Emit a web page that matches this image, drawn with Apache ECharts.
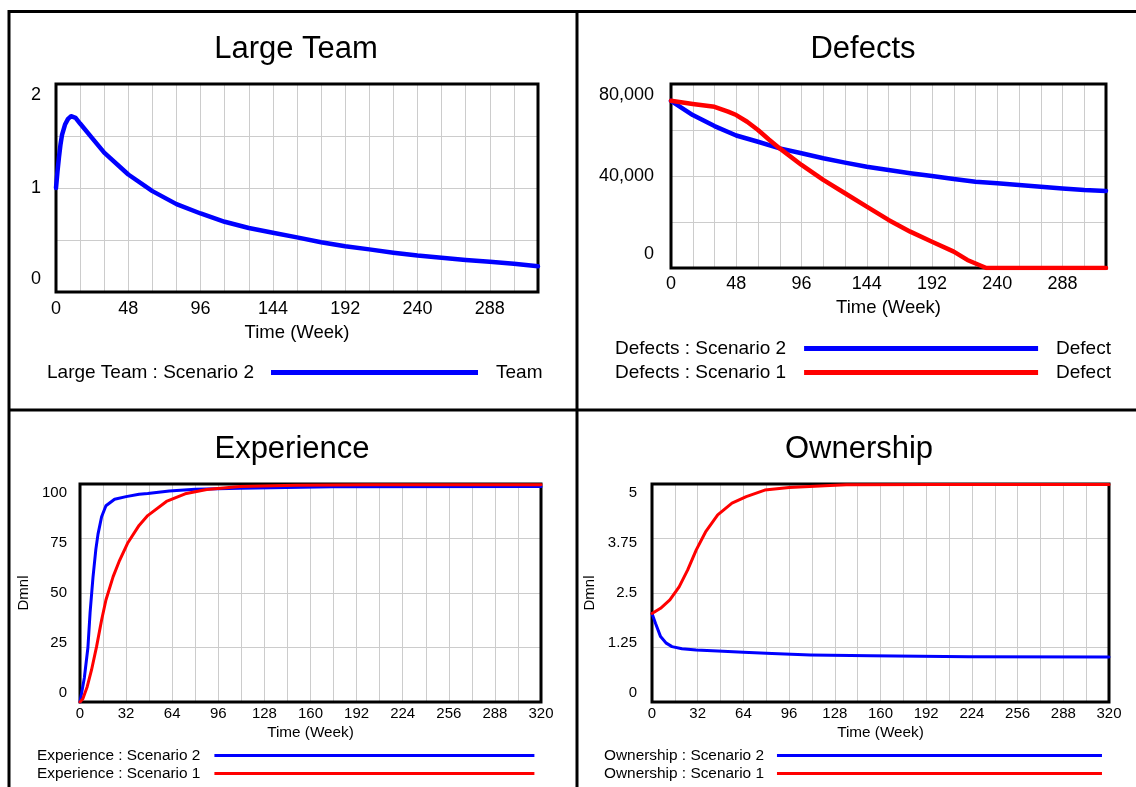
<!DOCTYPE html>
<html><head><meta charset="utf-8">
<script src="https://cdn.jsdelivr.net/npm/echarts@6/dist/echarts.min.js"></script>
<style>html,body{margin:0;padding:0;background:#fff}#c{width:1136px;height:787px}</style>
</head><body><div id="c"></div>
<script>
// ---------- DATA ----------
const teamTime = [0, 1, 2, 3, 4, 6, 8, 10, 13, 16, 24, 32, 48, 64, 80, 96, 112, 128, 144, 160, 176, 192, 208, 224, 240, 256, 272, 288, 304, 320];
const teamScenario2 = [1.0, 1.16, 1.3, 1.42, 1.51, 1.61, 1.665, 1.69, 1.675, 1.62, 1.48, 1.34, 1.13, 0.97, 0.845, 0.755, 0.675, 0.615, 0.57, 0.525, 0.478, 0.44, 0.41, 0.378, 0.35, 0.33, 0.308, 0.29, 0.272, 0.248];

const defectTime2 = [0, 16, 32, 48, 64, 80, 96, 112, 128, 144, 160, 176, 192, 208, 224, 240, 256, 272, 288, 304, 320];
const defectScenario2 = [72700, 66500, 61700, 57600, 54900, 52000, 49900, 47700, 45800, 44000, 42600, 41200, 40000, 38700, 37500, 36800, 36100, 35300, 34600, 33900, 33500];
const defectTime1 = [0, 16, 32, 42, 48, 56, 64, 72, 80, 96, 112, 128, 144, 160, 176, 192, 208, 218, 228, 232, 240, 256, 288, 320];
const defectScenario1 = [72700, 71300, 70100, 68000, 66500, 63600, 60000, 55900, 52000, 44800, 38300, 32500, 26700, 20900, 15800, 11400, 7100, 3500, 1000, 0, 0, 0, 0, 0];

const expTime2 = [0, 3, 5.5, 7, 9, 11, 12.5, 15, 18, 24, 32, 41, 47, 62, 80, 111, 175, 320];
const expScenario2 = [0, 11, 25, 41, 57, 70, 77, 85, 90, 93, 94.2, 95.3, 95.6, 96.8, 97.6, 98.1, 98.7, 98.8];
const expTime1 = [0, 2, 5, 8, 11.5, 15, 18, 23, 27.5, 33, 41, 47, 60, 73, 88, 111, 150, 200, 320];
const expScenario1 = [0, 1.5, 7, 14.7, 25.4, 37.6, 46.8, 57.5, 65, 72.8, 81, 85.5, 92, 95.5, 97.5, 98.8, 99.4, 99.6, 99.7];

const ownTime1 = [0, 6, 12.5, 19, 25, 31, 37.5, 46, 56, 66, 79, 96, 121, 136, 200, 320];
const ownScenario1 = [2.03, 2.15, 2.34, 2.64, 3.03, 3.49, 3.9, 4.29, 4.56, 4.71, 4.86, 4.92, 4.96, 4.98, 4.99, 4.99];
const ownTime2 = [0, 2.5, 6, 10, 14, 21, 31, 46, 64, 84, 111, 153, 222, 320];
const ownScenario2 = [2.03, 1.8, 1.5, 1.35, 1.27, 1.22, 1.19, 1.17, 1.14, 1.11, 1.08, 1.06, 1.04, 1.03];

const titles = ['Large Team', 'Defects', 'Experience', 'Ownership'];
const xName = 'Time (Week)';
const yName = 'Dmnl';

// ---------- CHART ----------
const FONT = '"Liberation Sans", Arial, sans-serif';
const BLUE = '#0000ff', RED = '#ff0000', GRID = '#cccccc';
function pairs(t, v) { return t.map((x, i) => [x, v[i]]); }

const plotBoxes = [[56, 84, 482, 208], [671, 84, 435, 184], [80, 484, 461, 218], [652, 484, 457, 218]];

function gridBox(b) {
  return { left: b[0], top: b[1], width: b[2], height: b[3], show: false,
           containLabel: false, outerBoundsMode: 'none' };
}
function xAx(gi, step, maxLabel, fs, nfs, margin, nameGap) {
  return {
    gridIndex: gi, type: 'value', min: 0, max: 320, interval: 16,
    axisLine: { show: false }, axisTick: { show: false },
    splitLine: { show: true, showMinLine: false, showMaxLine: false, lineStyle: { color: GRID, width: 1 } },
    axisLabel: { color: '#000', fontSize: fs, fontFamily: FONT, margin: margin,
      formatter: v => (v % step === 0 && v <= maxLabel) ? String(v) : '' },
    name: xName, nameLocation: 'middle', nameGap: nameGap,
    nameTextStyle: { color: '#000', fontSize: nfs, fontFamily: FONT }
  };
}
function yAx(gi, max, interval, fs, margin, labelMap, rich, name, nameGap) {
  const o = {
    gridIndex: gi, type: 'value', min: 0, max: max, interval: interval,
    axisLine: { show: false }, axisTick: { show: false },
    splitLine: { show: true, showMinLine: false, showMaxLine: false, lineStyle: { color: GRID, width: 1 } },
    axisLabel: { color: '#000', fontSize: fs, fontFamily: FONT, margin: margin,
      formatter: v => { const k = String(+v.toFixed(4)); return labelMap[k] !== undefined ? labelMap[k] : ''; },
      rich: rich }
  };
  if (name) {
    o.name = name; o.nameLocation = 'middle'; o.nameRotate = 90; o.nameGap = nameGap;
    o.nameTextStyle = { color: '#000', fontSize: fs, fontFamily: FONT };
  }
  return o;
}
function richSet(fs, offs) {
  const r = {};
  Object.keys(offs).forEach(k => {
    const d = offs[k];
    r[k] = { fontSize: fs, fontFamily: FONT, color: '#000',
      padding: d > 0 ? [2 * d, 0, 0, 0] : [0, 0, -2 * d, 0] };
  });
  return r;
}
function lineSeries(name, xi, color, data, w) {
  return { name: name, type: 'line', xAxisIndex: xi, yAxisIndex: xi, data: data, z: 3,
    showSymbol: false, symbol: 'none', smooth: false, clip: true,
    lineStyle: { color: color, width: w, join: 'round', cap: 'round' }, itemStyle: { color: color },
    emphasis: { disabled: true }, animation: false };
}
function legendBox(names, left, top, itemW, itemH, fs, gap, rowGap) {
  return { data: names, left: left, top: top, orient: 'vertical', align: 'right', icon: 'rect',
    itemWidth: itemW, itemHeight: itemH, padding: 0, itemGap: rowGap, selectedMode: false,
    textStyle: { color: '#000', fontSize: fs, fontFamily: FONT, padding: [0, gap, 0, 0] } };
}
function txt(x, y, s, fs, align) {
  return { type: 'text', x: x, y: y, silent: true,
    style: { text: s, fill: '#000', font: fs + 'px ' + FONT, fontSize: fs, fontFamily: FONT,
      align: align, verticalAlign: 'middle', textAlign: align, textVerticalAlign: 'middle' } };
}
function ln(x1, y1, x2, y2, w) {
  return { type: 'line', silent: true, shape: { x1: x1, y1: y1, x2: x2, y2: y2 },
    style: { stroke: '#000', lineWidth: w } };
}
function frame(b) {
  return { type: 'rect', silent: true, z: 1, shape: { x: b[0], y: b[1], width: b[2], height: b[3] },
    style: { fill: 'none', stroke: '#000', lineWidth: 3 } };
}

const option = {
  animation: false,
  backgroundColor: '#fff',
  textStyle: { fontFamily: FONT },
  grid: plotBoxes.map(gridBox),
  xAxis: [
    xAx(0, 48, 288, 18, 18.5, 8, 31),
    xAx(1, 48, 288, 18, 18.5, 7, 30),
    xAx(2, 32, 320, 15, 15.3, 4, 23),
    xAx(3, 32, 320, 15, 15.3, 4, 23)
  ],
  yAxis: [
    yAx(0, 2, 0.5, 18, 15, { '0': '{b|0}', '1': '1', '2': '{t|2}' },
        richSet(18, { t: 11, b: -13 })),
    yAx(1, 80000, 20000, 18, 17, { '0': '{b|0}', '40000': '40,000', '80000': '{t|80,000}' },
        richSet(18, { t: 11, b: -14 })),
    yAx(2, 100, 25, 15, 13, { '0': '{e|0}', '25': '{d|25}', '50': '50', '75': '{b|75}', '100': '{a|100}' },
        richSet(15, { a: 9, b: 4.5, d: -4.5, e: -9 }), yName, 49),
    yAx(3, 5, 1.25, 15, 15, { '0': '{e|0}', '1.25': '{d|1.25}', '2.5': '2.5', '3.75': '{b|3.75}', '5': '{a|5}' },
        richSet(15, { a: 9, b: 4.5, d: -4.5, e: -9 }), yName, 55)
  ],
  legend: [
    legendBox(['Large Team : Scenario 2'], 47, 363, 207, 5, 19, 12, 5),
    legendBox(['Defects : Scenario 2', 'Defects : Scenario 1'], 615, 339, 234, 5, 19, 13, 5),
    legendBox(['Experience : Scenario 2', 'Experience : Scenario 1'], 37, 748, 320, 3, 15.4, 9, 3),
    legendBox(['Ownership : Scenario 2', 'Ownership : Scenario 1'], 604, 748, 325, 3, 15.4, 8, 3)
  ],
  series: [
    lineSeries('Large Team : Scenario 2', 0, BLUE, pairs(teamTime, teamScenario2), 4.5),
    lineSeries('Defects : Scenario 2', 1, BLUE, pairs(defectTime2, defectScenario2), 4.5),
    lineSeries('Defects : Scenario 1', 1, RED, pairs(defectTime1, defectScenario1), 4.5),
    lineSeries('Experience : Scenario 2', 2, BLUE, pairs(expTime2, expScenario2), 3),
    lineSeries('Experience : Scenario 1', 2, RED, pairs(expTime1, expScenario1), 3),
    lineSeries('Ownership : Scenario 2', 3, BLUE, pairs(ownTime2, ownScenario2), 3),
    lineSeries('Ownership : Scenario 1', 3, RED, pairs(ownTime1, ownScenario1), 3)
  ],
  graphic: [
    ln(8, 11.5, 1136, 11.5, 3),
    ln(8, 410, 1136, 410, 3),
    ln(9, 10, 9, 787, 3),
    ln(577, 10, 577, 787, 3),
    frame(plotBoxes[0]), frame(plotBoxes[1]), frame(plotBoxes[2]), frame(plotBoxes[3]),
    txt(296, 49, titles[0], 31, 'center'),
    txt(863, 49, titles[1], 31, 'center'),
    txt(292, 449, titles[2], 31, 'center'),
    txt(859, 449, titles[3], 31, 'center'),
    txt(496, 373, 'Team', 19, 'left'),
    txt(1056, 349, 'Defect', 19, 'left'),
    txt(1056, 373, 'Defect', 19, 'left')
  ]
};

const chart = echarts.init(document.getElementById('c'));
chart.setOption(option);
</script>
</body></html>
